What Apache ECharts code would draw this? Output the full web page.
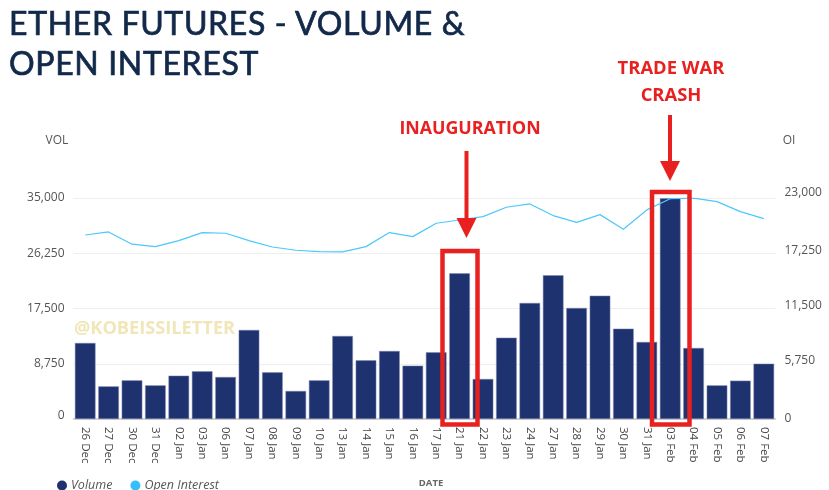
<!DOCTYPE html>
<html>
<head>
<meta charset="utf-8">
<title>Ether Futures - Volume & Open Interest</title>
<script src="https://cdn.jsdelivr.net/npm/echarts@6/dist/echarts.min.js"></script>
<style>
  html, body { margin: 0; padding: 0; background: #fff; }
  #chart { width: 829px; height: 490px; }
  /* title sits outside the canvas because it needs letter spacing */
  #title { position: absolute; left: 9px; top: 3px; z-index: 2; font: 400 32px/40px Lato, sans-serif; letter-spacing: 0.65px; -webkit-text-stroke: 0.7px #12294a; color: #12294a; white-space: nowrap; }
</style>
</head>
<body>
<div id="title">ETHER FUTURES - VOLUME &amp;<br>OPEN INTEREST</div>
<div id="chart"></div>
<script>
// data
var dates = ['26 Dec','27 Dec','30 Dec','31 Dec','02 Jan','03 Jan','06 Jan','07 Jan','08 Jan','09 Jan',
  '10 Jan','13 Jan','14 Jan','15 Jan','16 Jan','17 Jan','21 Jan','22 Jan','23 Jan','24 Jan',
  '27 Jan','28 Jan','29 Jan','30 Jan','31 Jan','03 Feb','04 Feb','05 Feb','06 Feb','07 Feb'];
var volume = [12040,5170,6125,5330,6865,7550,6650,14100,7390,4435,
  6125,13150,9290,10770,8450,10560,23070,6335,12880,18375,
  22760,17580,19530,14310,12200,34950,11250,5330,6070,8760];
var openInterest = [19150,19470,18190,17940,18560,19400,19330,18560,17900,17560,
  17420,17385,17940,19400,18980,20370,20710,21060,22040,22380,
  21170,20470,21270,19750,21760,22930,22980,22620,21580,20850];
var volMax = 35000, volStep = 8750;
var oiMax = 23000, oiStep = 5750;

var red = '#e8201f';
var labelFont = '"Open Sans", sans-serif';
var chart = echarts.init(document.getElementById('chart'));

function redText(txt, x, y, size) {
  return { type: 'text', x: x, y: y, z: 20, style: { text: txt, fill: red, font: 'bold ' + size + 'px ' + labelFont, align: 'center', verticalAlign: 'middle' } };
}
function redBox(x, y, w, h) {
  return { type: 'rect', z: 20, shape: { x: x, y: y, width: w, height: h }, style: { fill: 'none', stroke: red, lineWidth: 4.5 } };
}
function arrow(x, y0, y1, y2) {
  return [
    { type: 'line', z: 20, shape: { x1: x, y1: y0, x2: x, y2: y1 }, style: { stroke: red, lineWidth: 4 } },
    { type: 'polygon', z: 20, shape: { points: [[x - 10, y1], [x + 10, y1], [x, y2]] }, style: { fill: red } }
  ];
}
function plainText(txt, x, y, opts) {
  return { type: 'text', x: x, y: y, z: 10, style: Object.assign({ text: txt, fill: '#555', font: '12px ' + labelFont, verticalAlign: 'middle' }, opts || {}) };
}

chart.setOption({
  animation: false,
  backgroundColor: '#fff',
  textStyle: { fontFamily: labelFont },
  legend: {
    left: 52, top: 474, itemGap: 18, itemWidth: 10, itemHeight: 10, icon: 'circle',
    itemStyle: { borderWidth: 0 },
    textStyle: { fontStyle: 'italic', fontSize: 12.5, color: '#555', padding: [0, 0, 0, -1] },
    data: ['Volume', 'Open Interest']
  },
  grid: { left: 73.5, width: 702, top: 198, bottom: 71 },
  xAxis: {
    type: 'category', data: dates,
    axisTick: { show: false },
    axisLine: { lineStyle: { color: '#c9c9c9', width: 1.5 } },
    axisLabel: { rotate: -90, color: '#444', fontSize: 11.5, margin: 8, interval: 0 }
  },
  yAxis: [
    {
      type: 'value', min: 0, max: volMax, interval: volStep,
      axisLine: { show: false }, axisTick: { show: false },
      splitLine: { lineStyle: { color: '#eeeeee', width: 1 } },
      axisLabel: {
        color: '#555', fontSize: 12, margin: 9,
        formatter: function (v) { return v === 0 ? '{up|0}' : v.toLocaleString('en-US'); },
        rich: { up: { padding: [0, 0, 7, 0], color: '#555', fontSize: 12 } }
      }
    },
    {
      type: 'value', min: 0, max: oiMax, interval: oiStep,
      axisLine: { show: false }, axisTick: { show: false }, splitLine: { show: false },
      axisLabel: {
        color: '#555', fontSize: 12, margin: 9,
        formatter: function (v) {
          var s = v.toLocaleString('en-US');
          return v === oiMax ? '{up|' + s + '}' : (v === 0 ? s : '{up2|' + s + '}');
        },
        rich: {
          up: { padding: [0, 0, 11, 0], color: '#555', fontSize: 12 },
          up2: { padding: [0, 0, 6, 0], color: '#555', fontSize: 12 }
        }
      }
    }
  ],
  series: [
    { name: 'Volume', type: 'bar', data: volume, barWidth: 20.6, yAxisIndex: 0, itemStyle: { color: '#1f3270', borderColor: '#7f8bb0', borderWidth: 0.5 } },
    { name: 'Open Interest', type: 'line', data: openInterest, yAxisIndex: 1, symbol: 'none', z: 5, lineStyle: { color: '#4cc8fa', width: 1.2 }, itemStyle: { color: '#36c0fb' } }
  ],
  graphic: [
    plainText('VOL', 57, 141, { align: 'center' }),
    plainText('OI', 789, 141, { align: 'center' }),
    plainText('DATE', 431, 483.5, { align: 'center', fill: '#666', font: 'bold 9.5px ' + labelFont }),
    plainText('@KOBEISSILETTER', 74, 329, { fill: '#f0e6b8', font: 'bold 18.2px ' + labelFont }),
    redText('INAUGURATION', 470, 129, 17.8),
    redText('TRADE WAR', 671, 68.5, 18.4),
    redText('CRASH', 671, 95.5, 18.4),
    redBox(442.5, 251, 35, 173.5),
    redBox(652, 192, 37.5, 232.5)
  ].concat(arrow(466.5, 151, 218, 238), arrow(670, 115, 161, 181))
});
</script>
</body>
</html>
